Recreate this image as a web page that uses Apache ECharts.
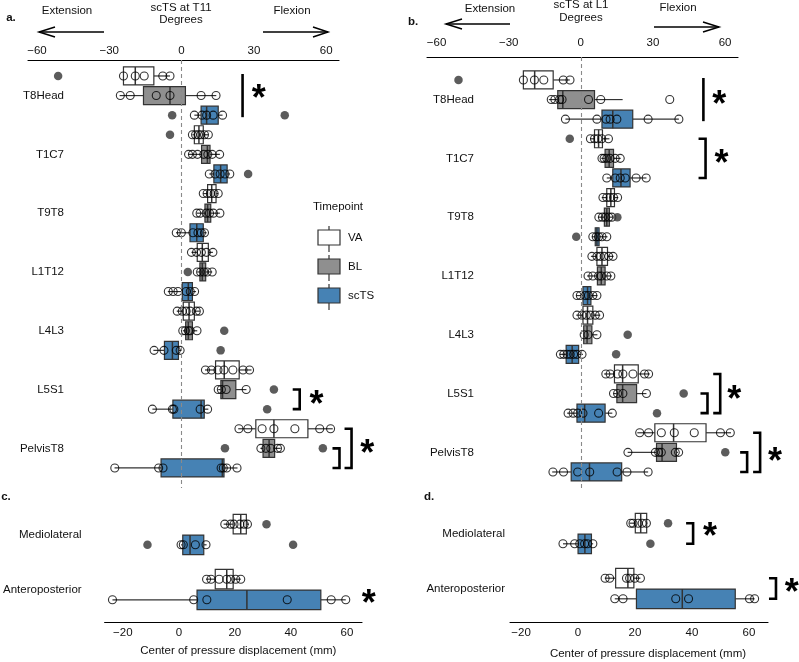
<!DOCTYPE html>
<html><head><meta charset="utf-8">
<script src="https://cdn.jsdelivr.net/npm/echarts@6/dist/echarts.min.js"></script>
<style>html,body{margin:0;padding:0;background:#fff}#c{width:799px;height:662px}</style>
</head><body><div id="c"></div>
<script>
// ---------- DATA ----------
const segCats = ['T8Head','T1C7','T9T8','L1T12','L4L3','L5S1','PelvisT8'];
const copCats = ['Mediolateral','Anteroposterior'];
const groups = ['VA','BL','scTS'];
const degTicks = [-60,-30,0,30,60];
const copTicks = [-20,0,20,40,60];

// Panel a (scTS at T11) boxes: [lowWhisker, Q1, median, Q3, highWhisker]
const aBoxVA = [[-24.1,-24.1,-19.2,-11.5,-4.8],[4.5,5.3,7.2,9.0,11.1],[9.0,10.8,12.5,14.3,15.2],[4.1,6.5,8.6,11.1,13.0],[-2.0,0.7,3.1,5.3,7.6],[9.7,14.1,17.7,23.9,29.0],[23.5,30.8,38.3,52.4,62.7]];
const aBoxBL = [[-25.7,-15.8,-4.8,1.6,14.4],[2.8,8.3,10.7,11.8,15.9],[6.3,9.7,10.8,12.1,15.9],[6.5,7.6,8.6,10.0,12.7],[0.5,1.7,2.8,4.5,6.5],[15.2,16.3,17.0,22.5,26.9],[32.7,33.8,36.3,38.6,41.1]];
const aBoxTS = [[5.3,8.1,10.4,15.2,17.0],[11.5,13.4,16.2,18.9,20.0],[-2.3,3.5,6.3,9.0,10.4],[-5.7,0.3,2.8,4.5,6.0],[-11.7,-7.1,-3.8,-1.3,-0.2],[-12.1,-3.6,8.1,9.4,11.1],[-27.8,-8.5,16.9,17.6,23.2]];
const aPtsVA = [[-24.1,-19.2,-15.5,-7.8,-4.8],[4.5,5.8,7.0,8.0,9.5,11.1],[9.0,10.6,12.0,13.5,15.2],[4.1,6.2,8.2,10.3,13.0],[-1.8,0.3,1.9,3.6,6.1,7.4],[9.9,12.4,15.1,17.6,21.3,25.5,28.2],[23.8,27.5,33.4,38.3,47.0,57.3,61.8]];
const aPtsBL = [[-25.4,-21.3,-10.5,-4.8,8.1,14.3],[2.9,4.5,6.6,9.2,10.9,12.7,15.8],[6.3,7.7,10.2,11.6,13.2,15.9],[6.5,7.9,9.3,10.6,12.7],[0.5,1.6,2.8,3.6,6.4],[15.2,16.5,18.5,26.8],[32.9,35.0,37.0,39.8,41.0]];
const aPtsTS = [[5.3,8.5,10.4,13.1,17.0],[11.5,13.9,16.0,18.0,20.0],[-2.2,-0.1,4.7,6.8,8.2,9.5],[-5.5,-3.5,-1.5,1.9,3.6,5.4],[-11.4,-7.3,-2.2,-0.6],[-12.1,-3.8,-3.2,7.7,10.8],[-27.7,-9.5,-7.7,16.4,17.3,18.7,23.0]];
const aOutVA = [[-51.2],[-4.8],[],[],[],[],[]];
const aOutBL = [[],[],[],[2.6],[17.7],[38.3],[18.0,58.6]];
const aOutTS = [[-3.9,42.8],[27.6],[],[],[16.2],[35.5],[]];
// significance: [x, category, fromGroup, toGroup, bracketTicks]
const aSig = [[25.3,0,0,2,0],[49,5,1,2,1],[65.5,6,1,2,1],[70.5,6,0,2,1]];
const aStars = [[32,0,0.8],[56,5,1.45],[77,6,0.95]];

// Panel b (scTS at L1)
const bBoxVA = [[-23.9,-23.9,-19.2,-11.5,-4.6],[3.9,5.7,7.4,9.0,11.9],[8.7,10.8,12.5,14.0,15.6],[4.2,6.7,8.8,11.1,13.6],[-1.9,0.9,2.8,5.0,8.1],[9.7,14.0,17.4,23.9,28.7],[23.5,30.8,38.6,52.1,62.5]];
const bBoxBL = [[-13.3,-9.6,-7.5,5.7,17.4],[8.5,10.1,11.8,13.6,16.6],[7.1,9.8,10.8,11.9,13.1],[2.6,6.9,8.5,10.1,12.9],[1.2,1.2,2.6,4.6,6.9],[13.6,15.0,17.4,23.2,27.3],[19.5,31.5,33.8,39.8,40.4]];
const bBoxTS = [[-6.4,8.8,13.3,21.6,40.8],[10.8,13.3,16.7,20.5,27.3],[4.6,6.0,6.7,7.6,11.1],[-1.9,0.9,2.8,4.2,6.9],[-8.8,-6.1,-3.6,-0.9,0.9],[-5.7,-1.6,1.6,10.1,13.1],[-11.9,-4.0,3.6,17.0,28.0]];
const bPtsVA = [[-23.9,-19.3,-15.4,-7.3,-4.5],[4.0,5.7,7.1,8.7,11.5],[9.2,10.8,12.2,13.6,15.3],[4.6,6.7,8.1,9.7,11.6,13.4],[-1.6,0.5,2.3,3.9,6.0,7.8],[10.4,12.2,15.3,17.5,21.7,26.5,28.2],[24.5,28.2,33.5,38.9,47.2,58.1,62.2]];
const bPtsBL = [[-12.3,-10.8,-8.8,-7.8,3.2,8.3,37.0],[8.8,9.7,10.8,12.2,14.3,16.4],[7.5,9.0,10.2,11.6,12.9],[3.0,5.0,7.4,8.5,10.8,12.5],[1.4,3.0,6.7],[13.6,15.3,17.5,27.3],[19.6,31.0,32.4,33.5,39.3,40.7]];
const bPtsTS = [[-6.4,6.7,10.5,12.2,15.0,28.0,40.8],[10.8,14.3,16.4,18.5,23.0,27.2],[5.0,6.4,7.4,8.8,10.8],[-1.6,-0.2,1.9,3.2,5.0,6.7],[-8.5,-7.1,-5.7,-4.4,-3.0,-1.6,0.5],[-5.3,-3.2,-1.3,0.9,7.4,13.1],[-11.6,-7.2,-1.3,3.7,15.1,19.2,28.0]];
const bOutVA = [[-50.9],[-4.6],[],[],[],[],[]];
const bOutBL = [[],[],[15.2],[],[19.5],[42.8],[60.1]];
const bOutTS = [[],[],[-1.9],[],[14.7],[31.7],[]];
const bSig = [[51,0,0,2,0],[51.9,1,0,2,1],[52.7,5,1,2,1],[58,5,0,2,1],[69.2,6,1,2,1],[74.6,6,0,2,1]];
const bStars = [[57.6,0,0.9],[58.5,1,0.95],[63.8,5,0.95],[80.8,6,1.15]];

// Panel c (COP, T11) groups: VA, scTS
const cBoxVA = [[16.0,19.4,22.1,24.1,25.0],[9.7,13.0,17.1,19.4,22.1]];
const cBoxTS = [[0.8,1.4,4.0,8.9,9.9],[-23.7,6.5,24.3,50.7,59.6]];
const cPtsVA = [[16.4,18.5,19.7,21.8,23.3,24.5],[9.9,11.5,14.4,17.1,18.5,20.3,22.1]];
const cPtsTS = [[0.8,1.6,5.9,9.7],[-23.7,5.3,10.0,38.7,54.4,59.6]];
const cOutVA = [[31.3],[]];
const cOutTS = [[-11.2,40.8],[]];
const cSig = [];
const cStars = [[67.8,1,0.86]];

// Panel d (COP, L1)
const dBoxVA = [[18.1,20.1,22.0,24.1,24.4],[9.4,13.2,17.5,19.6,21.9]];
const dBoxTS = [[-5.3,0.0,2.4,4.7,5.3],[12.9,20.5,36.6,55.2,62.0]];
const dPtsVA = [[18.5,19.3,21.1,22.5,24.0],[9.5,11.1,17.0,18.1,19.9,21.9]];
const dPtsTS = [[-5.3,-1.2,0.6,2.3,3.3,5.2],[12.9,15.8,34.3,38.8,60.2,62.0]];
const dOutVA = [[31.6],[]];
const dOutTS = [[25.4],[]];
const dSig = [[40.4,0,0,1,1],[69.5,1,0,1,1]];
const dStars = [[46.3,0,0.33],[75,1,0.38]];

// ---------- STYLE / BUILD ----------
const FONT = 'Liberation Sans';
const TXT = '#111';
const fillOf = {VA:'#ffffff', BL:'#8f8f8f', scTS:'#4682b4'};
const pos3 = (cat, g) => cat + (g - 1) / 3;
const pos2 = (cat, g) => cat + (g - 0.5) * 0.375;
const minus = v => String(v).replace('-', '\u2212');

function boxRenderer(h) {
  return function (params, api) {
    const y = api.value(5);
    const lo = api.coord([api.value(0), y]);
    const q1 = api.coord([api.value(1), y]);
    const md = api.coord([api.value(2), y]);
    const q3 = api.coord([api.value(3), y]);
    const hi = api.coord([api.value(4), y]);
    const cy = lo[1];
    const fill = api.value(6) === 0 ? fillOf.VA : api.value(6) === 1 ? fillOf.BL : fillOf.scTS;
    const st = {stroke:'#333', lineWidth:1.2};
    return {type:'group', children:[
      {type:'line', shape:{x1:lo[0],y1:cy,x2:q1[0],y2:cy}, style:st},
      {type:'line', shape:{x1:q3[0],y1:cy,x2:hi[0],y2:cy}, style:st},
      {type:'rect', shape:{x:q1[0],y:cy-h/2,width:q3[0]-q1[0],height:h}, style:{fill:fill, stroke:'#333', lineWidth:1.2}},
      {type:'line', shape:{x1:md[0],y1:cy-h/2,x2:md[0],y2:cy+h/2}, style:{stroke:'#333', lineWidth:1.5}}
    ]};
  };
}
function sigRenderer(params, api) {
  const x = api.value(0);
  const p1 = api.coord([x, api.value(1)]);
  const p2 = api.coord([x, api.value(2)]);
  const pts = api.value(3) ? [[p1[0]-7,p1[1]],p1,p2,[p2[0]-7,p2[1]]] : [[p1[0],p1[1]-2],[p2[0],p2[1]+2]];
  return {type:'polyline', shape:{points:pts}, style:{stroke:'#000', lineWidth:2.6, fill:null}};
}
function starRenderer(params, api) {
  const p = api.coord([api.value(0), api.value(1)]);
  return {type:'text', x:p[0], y:p[1]+8, style:{text:'*', font:'bold 36px "Liberation Sans"', fill:'#000', textAlign:'center', textVerticalAlign:'middle'}};
}

function buildPanel(idx, grpNames, boxes, pts, outs, sig, stars, posFn, boxH, zeroLine) {
  const boxData = [], ptData = [], outData = [];
  grpNames.forEach((gname, gi) => {
    const gIndex = groups.indexOf(gname);
    const posG = grpNames.length === 3 ? gi : gi;
    boxes[gi].forEach((b, ci) => {
      const y = posFn(ci, posG);
      boxData.push([b[0], b[1], b[2], b[3], b[4], y, gIndex]);
      pts[gi][ci].forEach(v => ptData.push([v, y]));
      outs[gi][ci].forEach(v => outData.push([v, y]));
    });
  });
  const series = [
    {type:'custom', xAxisIndex:idx, yAxisIndex:idx, renderItem:boxRenderer(boxH), data:boxData,
     encode:{x:[0,1,2,3,4], y:5}, z:2, clip:false, silent:true},
    {type:'scatter', xAxisIndex:idx, yAxisIndex:idx, data:ptData, symbol:'circle', symbolSize:8,
     itemStyle:{color:'rgba(0,0,0,0)', borderColor:'#000', borderWidth:1.1}, z:4, silent:true,
     markLine: zeroLine ? {silent:true, symbol:['none','none'], label:{show:false},
       lineStyle:{color:'#8a8a8a', type:[4,3], width:1.1}, data:[{xAxis:0}]} : undefined},
    {type:'scatter', xAxisIndex:idx, yAxisIndex:idx, data:outData, symbol:'circle', symbolSize:8.5,
     itemStyle:{color:'#333'}, z:4, silent:true},
    {type:'custom', xAxisIndex:idx, yAxisIndex:idx, renderItem:sigRenderer,
     data:sig.map(s => [s[0], posFn(s[1], s[2]), posFn(s[1], s[3]), s[4]]),
     encode:{x:0, y:[1,2]}, z:5, clip:false, silent:true},
    {type:'custom', xAxisIndex:idx, yAxisIndex:idx, renderItem:starRenderer,
     data:stars.map(s => [s[0], posFn(s[1], s[2])]),
     encode:{x:0, y:1}, z:5, clip:false, silent:true}
  ];
  return series;
}

const series = [].concat(
  buildPanel(0, groups, [aBoxVA,aBoxBL,aBoxTS], [aPtsVA,aPtsBL,aPtsTS], [aOutVA,aOutBL,aOutTS], aSig, aStars, pos3, 18, true),
  buildPanel(1, groups, [bBoxVA,bBoxBL,bBoxTS], [bPtsVA,bPtsBL,bPtsTS], [bOutVA,bOutBL,bOutTS], bSig, bStars, pos3, 18, true),
  buildPanel(2, ['VA','scTS'], [cBoxVA,cBoxTS], [cPtsVA,cPtsTS], [cOutVA,cOutTS], cSig, cStars, pos2, 19.5, false),
  buildPanel(3, ['VA','scTS'], [dBoxVA,dBoxTS], [dPtsVA,dPtsTS], [dOutVA,dOutTS], dSig, dStars, pos2, 19.5, false)
);

function xAx(gi, min, max, ticks, top, margin, name, nameGap, namePad) {
  return {type:'value', gridIndex:gi, min:min, max:max, position: top ? 'top' : 'bottom',
    axisLine:{onZero:false, lineStyle:{color:'#000', width:1.1}}, axisTick:{show:false}, splitLine:{show:false},
    axisLabel:{customValues:ticks, formatter:minus, margin:margin, color:TXT, fontSize:11.5, fontFamily:FONT},
    name:name || '', nameLocation:'middle', nameGap:nameGap || 0,
    nameTextStyle:{fontSize:11.5, color:TXT, fontFamily:FONT, padding:[0,0,0,namePad || 0]}};
}
function yAx(gi, min, max, cats, margin) {
  return {type:'value', gridIndex:gi, inverse:true, min:min, max:max,
    axisLine:{show:false, onZero:false}, axisTick:{show:false}, splitLine:{show:false},
    axisLabel:{customValues:cats.map((c,i)=>i), formatter:v => cats[Math.round(v)] || '',
      margin:margin, color:TXT, fontSize:11.5, fontFamily:FONT}};
}

const txt = (x, y, s, bold, align) => ({type:'text', x:x, y:y, silent:true,
  style:{text:s, font:(bold ? 'bold ' : '') + '11.5px "Liberation Sans"', fill:TXT,
  textAlign:align || 'center', textVerticalAlign:'middle'}});
const pl = (pts) => ({type:'polyline', silent:true, shape:{points:pts}, style:{stroke:'#000', lineWidth:1.5, fill:null}});

const graphics = [
  txt(11,18,'a.',true), txt(67,11,'Extension'), txt(181,8,'scTS at T11'), txt(181,20,'Degrees'), txt(292,11,'Flexion'),
  pl([[39,32],[104,32]]), pl([[55,27],[39,32],[55,37]]), pl([[263,32],[328,32]]), pl([[313,27],[328,32],[313,37]]),
  txt(413,22,'b.',true), txt(490,9,'Extension'), txt(581,5,'scTS at L1'), txt(581,18,'Degrees'), txt(678,8,'Flexion'),
  pl([[446,24],[510,24]]), pl([[462,19],[446,24],[462,29]]), pl([[654,27],[719,27]]), pl([[703,22],[719,27],[703,32]]),
  txt(6,497,'c.',true), txt(429,497,'d.',true),
  txt(313,207,'Timepoint',false,'left')
];
[['VA',230],['BL',259],['scTS',288]].forEach(([g,t]) => {
  graphics.push({type:'line', silent:true, shape:{x1:329,y1:t-4,x2:329,y2:t+22}, style:{stroke:'#333', lineWidth:1.2}});
  graphics.push({type:'rect', silent:true, shape:{x:318,y:t,width:22,height:15}, style:{fill:fillOf[g], stroke:'#333', lineWidth:1.2}});
  graphics.push(txt(348, t+7.5, g, false, 'left'));
});

const option = {
  animation:false,
  textStyle:{fontFamily:FONT},
  grid:[
    {left:28, top:60, width:311, height:428},
    {left:427, top:57, width:311, height:433},
    {left:103, top:500, width:259, height:122},
    {left:510, top:500, width:258, height:122}
  ],
  xAxis:[
    xAx(0, -63.7, 65.3, degTicks, true, 3.5),
    xAx(1, -64.0, 65.4, degTicks, true, 8.5),
    xAx(2, -26.5, 65.4, copTicks, false, 4.5, 'Center of pressure displacement (mm)', 23, 10),
    xAx(3, -23.9, 66.7, copTicks, false, 4.5, 'Center of pressure displacement (mm)', 26, 18)
  ],
  yAxis:[
    yAx(0, -0.605, 6.674, segCats, -36),
    yAx(1, -0.724, 6.64, segCats, -47),
    yAx(2, -0.627, 1.591, copCats, 23),
    yAx(3, -0.609, 1.609, copCats, 5)
  ],
  graphic:graphics,
  series:series
};
const chart = echarts.init(document.getElementById('c'), null, {renderer:'canvas'});
chart.setOption(option);
</script></body></html>
